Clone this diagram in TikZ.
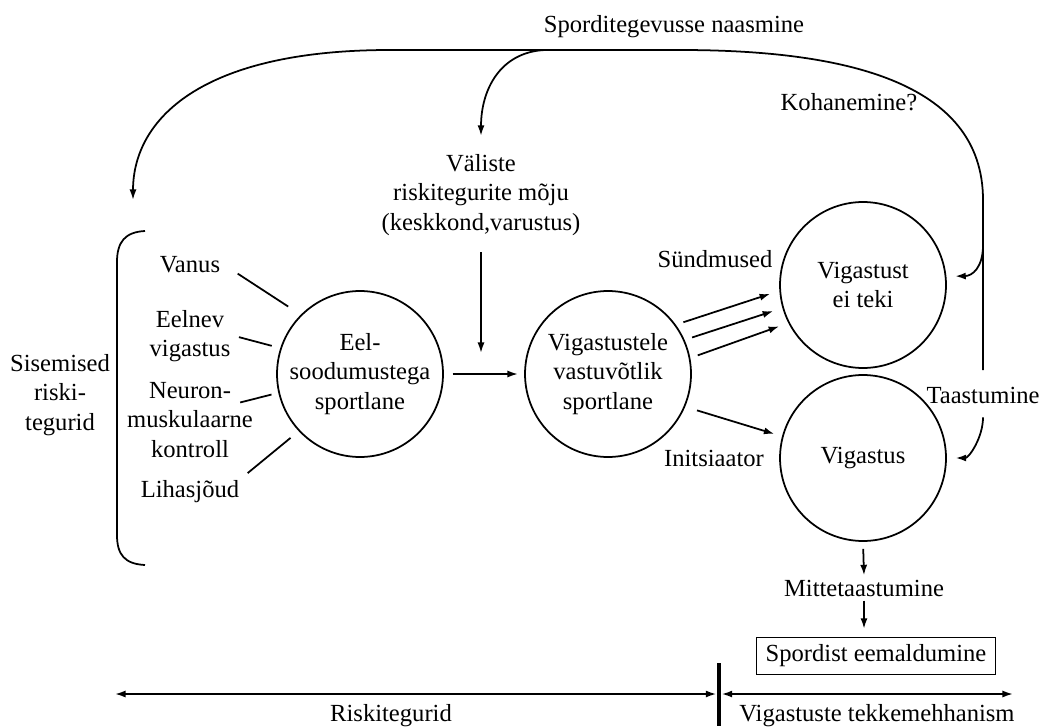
\documentclass[tikz,border=0pt]{standalone}
\usepackage{fontspec}
\setmainfont{Liberation Serif}
\usetikzlibrary{arrows.meta}

\begin{document}
\begin{tikzpicture}[x=0.02cm, y=-0.02cm, line width=1pt,
            every node/.style={font=\fontsize{14}{16.8}\selectfont},
            txt/.style={inner sep=2pt, align=center},
            athlete/.style={circle, draw, line width=1pt, minimum size=3.32cm, inner sep=0pt, align=center},
            outbox/.style={rectangle, draw, line width=0.9pt, minimum width=4.78cm, minimum height=0.74cm, inner sep=0pt},
            paths/.style={-{Latex[length=6pt,width=4pt]}},
            spoke/.style={-},
            twoway/.style={{Latex[length=6pt,width=4pt]}-{Latex[length=6pt,width=4pt]}}
        ]
            \useasboundingbox (0,0) rectangle (1043,726);

            % Nodes
            \node[txt] (comeback) at (674,27) {Sporditegevusse naasmine};
            \node[txt] (adaptation) at (849,102) {Kohanemine?};
            \node[txt] (external) at (481,195) {Väliste\\riskitegurite mõju\\(keskkond,varustus)};
            \node[txt] (internal) at (60,395) {Sisemised\\riski-\\tegurid};
            \node[txt] (age) at (190,265) {Vanus};
            \node[txt] (previous) at (190,336) {Eelnev\\vigastus};
            \node[txt] (neuro) at (190,420) {Neuron-\\muskulaarne\\kontroll};
            \node[txt] (strength) at (190,492) {Lihasjõud};

            \node[athlete] (predisposed) at (360,374) {Eel-\\soodumustega\\sportlane};
            \node[athlete] (susceptible) at (608,374) {Vigastustele\\vastuvõtlik\\sportlane};
            \node[athlete] (noinjury) at (863,285) {Vigastust\\ei teki};
            \node[athlete] (injury) at (863,458) {Vigastus};

            \node[txt] (events) at (715,259) {Sündmused};
            \node[txt] (initiator) at (714,458) {Initsiaator};
            \node[txt] (recovery) at (983,395) {Taastumine};
            \node[txt] (norecovery) at (864,588) {Mittetaastumine};
            \node[outbox] (dropout) at (876,656) {Spordist eemaldumine};

            \coordinate (fork) at (545,50);
            \coordinate (branch) at (983,245);
            \coordinate (back) at (133,200);
            \coordinate (meet) at (481,353);

            % Paths: risk factors
            \draw[spoke, shorten <=9pt, shorten >=8.5pt] (age.east) -- (predisposed.135);
            \draw[spoke, shorten <=2.5pt, shorten >=5pt] (previous.east) -- (predisposed.162);
            \draw[spoke, shorten <=-10pt, shorten >=4pt] (neuro.18) -- (predisposed.193);
            \draw[spoke, shorten <=3pt, shorten >=6pt] (strength.north east) -- (predisposed.223);

            % Internal risk factors bracket
            \draw (145,231) .. controls (125,232) and (117,242) .. (117,262) -- (117,535)
                .. controls (117,555) and (125,564) .. (145,565);

            % Paths: mechanism
            \draw[paths, shorten <=5pt, shorten >=3.5pt] (predisposed) -- (susceptible);
            \draw[paths, shorten <=7pt] (external) -- (meet);
            \foreach \from/\to in {36/184, 24/196, 11/207}
                \draw[paths, shorten <=4.5pt, shorten >=5.5pt] (susceptible.\from) -- (noinjury.\to);
            \draw[paths, shorten <=7pt, shorten >=4.5pt] (susceptible.337) -- (injury.165);
            \draw[paths, shorten <=4pt] (injury.south) -- (norecovery.north);
            \draw[paths, shorten >=4.5pt] (norecovery.south) -- (norecovery.south |- dropout.north);

            % Paths: return to sport
            \draw[paths, shorten <=7pt] (recovery.north) -- (983,200)
                .. controls (983,80) and (840,50) .. (680,50) -- (390,50)
                .. controls (200,50) and (133,120) .. (back);
            \draw[paths, shorten >=8pt] (fork) .. controls (500,52) and (481,90) .. (external.north);
            \draw[paths, shorten >=5pt] (branch) .. controls (983,268) and (972,276) .. (noinjury.6);
            \draw[paths, shorten <=5.5pt, shorten >=5pt] (recovery.south) .. controls +(0,30) and +(22,0) .. (injury.east);

            % Time line
            \coordinate (timeline-start) at (115,694);
            \coordinate (timeline-mid) at (719,694);
            \coordinate (timeline-end) at (1013,694);
            \draw[twoway, shorten >=1.5pt] (timeline-start) -- (timeline-mid);
            \draw[twoway, shorten <=1.5pt] (timeline-mid) -- (timeline-end);
            \draw[line width=1.8pt] (719,663) -- (719,726);

            \node[txt] (risk) at (391,716) {Riskitegurid};
            \node[txt] (mechanism) at (877,716) {Vigastuste tekkemehhanism};
        \end{tikzpicture}
\end{document}
